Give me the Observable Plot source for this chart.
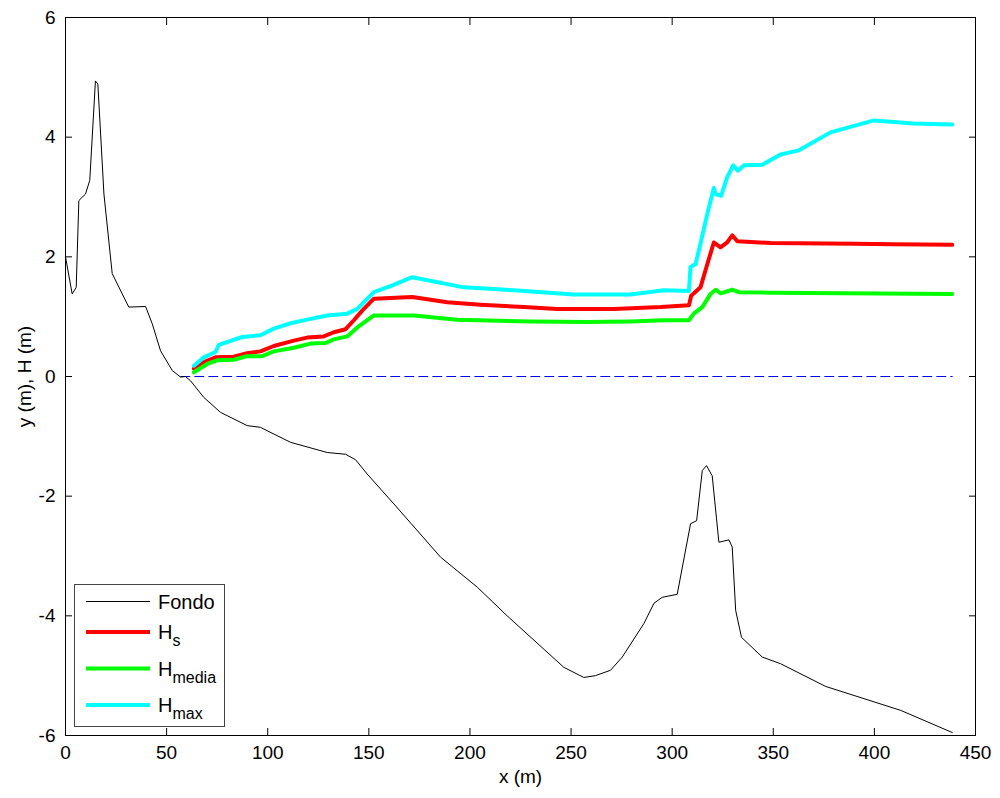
<!DOCTYPE html>
<html><head><meta charset="utf-8">
<script src="https://cdn.jsdelivr.net/npm/d3@7"></script>
<script src="https://cdn.jsdelivr.net/npm/@observablehq/plot@0.6"></script>
<style>body{margin:0;background:#fff} #chart{width:1000px;height:798px}</style>
</head><body><div id="chart"></div>
<script>
// Perfil del fondo
const fondoX = [0,3.3,5.3,6.6,9.9,12,14.8,16,19,23.1,31.3,39.6,42.9,47,52.8,56.9,59.3,61.8,68.4,76.7,89.8,96.4,111.3,129.4,138.5,143.4,149.2,162.4,185.5,203.6,218.4,246.4,256.3,262,269.5,275.3,286,291,295.1,302.5,309.1,312.1,314.9,317,319.8,323.1,328.1,329.7,331.4,334.3,344.6,353.6,375.9,413,438.5];
const fondoY = [2.0,1.38,1.49,2.94,3.05,3.28,4.94,4.89,3.05,1.72,1.16,1.17,0.88,0.43,0.1,-0.01,0.0,-0.07,-0.35,-0.6,-0.82,-0.85,-1.1,-1.27,-1.3,-1.39,-1.63,-2.13,-3.02,-3.52,-4.0,-4.86,-5.03,-5.0,-4.91,-4.69,-4.13,-3.79,-3.69,-3.64,-2.46,-2.41,-1.57,-1.49,-1.66,-2.77,-2.73,-2.85,-3.91,-4.36,-4.69,-4.8,-5.18,-5.58,-5.95];
// H_s
const hsX = [63.5,68.4,74.2,83.2,89.8,96.4,103,112.9,119.5,127.7,132.7,138.5,142.6,146.7,152.5,160.7,171.5,188.8,205.2,226.7,243.2,271.2,294.3,308.3,309.4,314,317.4,320.6,323.9,327.2,329.7,332.2,348.7,389.9,409.6,438.5];
const hsY = [0.13,0.24,0.32,0.33,0.39,0.42,0.51,0.6,0.65,0.67,0.74,0.79,0.94,1.1,1.3,1.31,1.33,1.24,1.2,1.16,1.13,1.13,1.16,1.19,1.35,1.49,1.88,2.24,2.16,2.24,2.36,2.26,2.23,2.22,2.21,2.2];
// H_media
const hmediaX = [63.5,70.1,75,83.2,89.8,97.3,103,112.9,121.2,128.6,132.7,139.3,144.3,152.5,172.3,193.7,229.9,258,279.4,295.9,308.3,310.7,314.9,319,321.5,324,329.7,333,348.7,438.5];
const hmediaY = [0.07,0.21,0.27,0.28,0.34,0.34,0.42,0.48,0.55,0.56,0.62,0.67,0.82,1.02,1.02,0.95,0.92,0.91,0.92,0.94,0.94,1.05,1.16,1.38,1.45,1.39,1.45,1.41,1.40,1.38];
// H_max
const hmaxX = [63.5,68.4,74.2,75.8,87.4,96.4,103,111.3,119.5,129.4,139.3,144.3,152.5,160.7,171.5,197,221.7,251.4,279.4,295.9,308.3,309.1,311.6,314,317.4,320.6,321.5,324.2,327.2,330.2,332.5,335.5,344.6,353.6,362.7,378.3,399.8,403.1,419.5,438.5];
const hmaxY = [0.18,0.32,0.41,0.53,0.66,0.69,0.8,0.89,0.95,1.02,1.05,1.13,1.41,1.51,1.66,1.49,1.44,1.37,1.37,1.44,1.43,1.83,1.88,2.22,2.72,3.15,3.05,3.02,3.33,3.53,3.44,3.53,3.54,3.71,3.78,4.08,4.28,4.27,4.23,4.21];
// Nivel del mar
const seaX = [57,438.5];
const seaY = [0,0];
// Ticks
const xTicks = [0,50,100,150,200,250,300,350,400,450];
const yTicks = [-6,-4,-2,0,2,4,6];
// Legend
const legendNames = ["Fondo","H","H","H"];
const legendSubs = ["","s","media","max"];

const rows = (xs, ys) => xs.map((x, i) => ({x, y: ys[i]}));
const font = "'Liberation Sans', Arial, Helvetica, sans-serif";
const fmt = d => String(d);

const plot = Plot.plot({
  width: 1000, height: 798,
  marginLeft: 65, marginRight: 25, marginTop: 17, marginBottom: 63,
  style: {fontFamily: font, fontSize: "19px", background: "#fff", color: "#000", overflow: "visible"},
  x: {domain: [0, 450]},
  y: {domain: [-6, 6]},
  marks: [
    Plot.line(rows(seaX, seaY), {x: "x", y: "y", stroke: "#0000ff", strokeWidth: 1, strokeDasharray: "9,5"}),
    Plot.line(rows(fondoX, fondoY), {x: "x", y: "y", stroke: "#000", strokeWidth: 1}),
    Plot.line(rows(hsX, hsY), {x: "x", y: "y", stroke: "#ff0000", strokeWidth: 4, strokeLinejoin: "round"}),
    Plot.line(rows(hmediaX, hmediaY), {x: "x", y: "y", stroke: "#00ff00", strokeWidth: 4, strokeLinejoin: "round"}),
    Plot.line(rows(hmaxX, hmaxY), {x: "x", y: "y", stroke: "#00ffff", strokeWidth: 4, strokeLinejoin: "round"}),
    Plot.frame({stroke: "#000", strokeWidth: 1}),
    Plot.axisX({anchor: "bottom", ticks: xTicks, tickSize: 0, tickPadding: 10, tickFormat: fmt,
      label: "x (m)", labelAnchor: "center", labelOffset: 47, labelArrow: "none"}),
    Plot.axisX({anchor: "bottom", ticks: xTicks, tickSize: -7, tickFormat: () => "", label: null}),
    Plot.axisX({anchor: "top", ticks: xTicks, tickSize: -7, tickFormat: () => "", label: null}),
    Plot.axisY({anchor: "left", ticks: yTicks, tickSize: 0, tickPadding: 10, tickFormat: fmt,
      label: "y (m), H (m)", labelAnchor: "center", labelOffset: 48, labelArrow: "none"}),
    Plot.axisY({anchor: "left", ticks: yTicks, tickSize: -7, tickFormat: () => "", label: null}),
    Plot.axisY({anchor: "right", ticks: yTicks, tickSize: -7, tickFormat: () => "", label: null})
  ]
});
document.getElementById("chart").appendChild(plot);

// Legend box (inside the axes, lower left)
const colors = ["#000", "#ff0000", "#00ff00", "#00ffff"];
const widths = [1, 4, 4, 4];
const rowY = [601.5, 632, 668.5, 705];
const svg = d3.select(plot);
const lg = svg.append("g").attr("font-family", font).attr("text-anchor", "start");
lg.append("rect").attr("x", 74.5).attr("y", 584.5).attr("width", 150).attr("height", 142)
  .attr("fill", "#fff").attr("stroke", "#444").attr("stroke-width", 1);
legendNames.forEach((name, i) => {
  lg.append("line").attr("x1", 86).attr("x2", 150).attr("y1", rowY[i]).attr("y2", rowY[i])
    .attr("stroke", colors[i]).attr("stroke-width", widths[i]);
  const t = lg.append("text").attr("x", 158).attr("y", rowY[i] + 7).attr("font-size", 20)
    .attr("fill", "#000").attr("text-anchor", "start");
  t.append("tspan").text(name);
  if (legendSubs[i]) t.append("tspan").attr("font-size", 16).attr("dy", 7).text(legendSubs[i]);
});
</script>
</body></html>
